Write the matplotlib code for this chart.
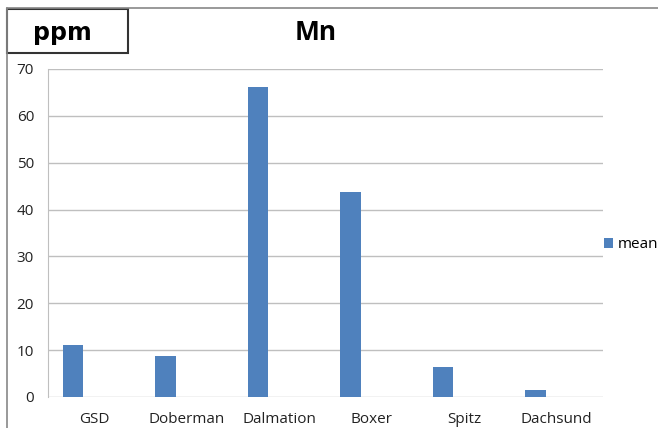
import matplotlib.pyplot as plt
from matplotlib.patches import Rectangle

plt.rcParams['font.family'] = ['Open Sans', 'DejaVu Sans']

breeds = ['GSD', 'Doberman', 'Dalmation', 'Boxer', 'Spitz', 'Dachsund']
mean_mn = [11.1, 8.7, 66.1, 43.7, 6.4, 1.4]
yticks = [0, 10, 20, 30, 40, 50, 60, 70]

fig = plt.figure(figsize=(6.58, 4.28), dpi=100)
W, H = 658, 428
ax = fig.add_axes([48 / W, 1 - 397 / H, 555 / W, (397 - 69) / H])

x = range(len(breeds))
ax.bar([i - 0.23 for i in x], mean_mn, width=0.22, color='#4f81bd', label='mean', zorder=3)

ax.set_xlim(-0.5, len(breeds) - 0.5)
ax.set_ylim(0, 70)
ax.set_yticks(yticks)
ax.set_xticks(list(x))
ax.set_xticklabels(breeds)
ax.tick_params(length=0, labelsize=11, colors='#222222')
ax.tick_params(axis='x', pad=11)
ax.tick_params(axis='y', pad=10)
ax.grid(axis='y', color='#bfbfbf', linewidth=1, zorder=0)
for s in ['top', 'right', 'bottom']:
    ax.spines[s].set_visible(False)
ax.spines['left'].set_color('#bfbfbf')

fig.text(316 / W, 1 - 32 / H, 'Mn', ha='center', va='center', fontsize=19, fontweight='bold')

# outer chart border and the ppm label box
fig.add_artist(plt.Line2D([7 / W, 7 / W], [0, 1 - 8 / H], color='#888888', linewidth=1.2))
fig.add_artist(plt.Line2D([7 / W, 1], [1 - 8 / H, 1 - 8 / H], color='#888888', linewidth=1.2))
fig.add_artist(Rectangle((7 / W, 1 - 53 / H), 121 / W, 44 / H, transform=fig.transFigure,
                         facecolor='white', edgecolor='#333333', linewidth=1.5))
fig.text(62 / W, 1 - 33 / H, 'ppm', ha='center', va='center', fontsize=17,
         fontweight='bold', family='DejaVu Sans')

fig.legend(loc='center left', bbox_to_anchor=(590 / W, 1 - 245 / H), frameon=False,
           handlelength=0.6, handleheight=0.6, handletextpad=0.3, fontsize=11)

fig.savefig('out.png', dpi=100)
